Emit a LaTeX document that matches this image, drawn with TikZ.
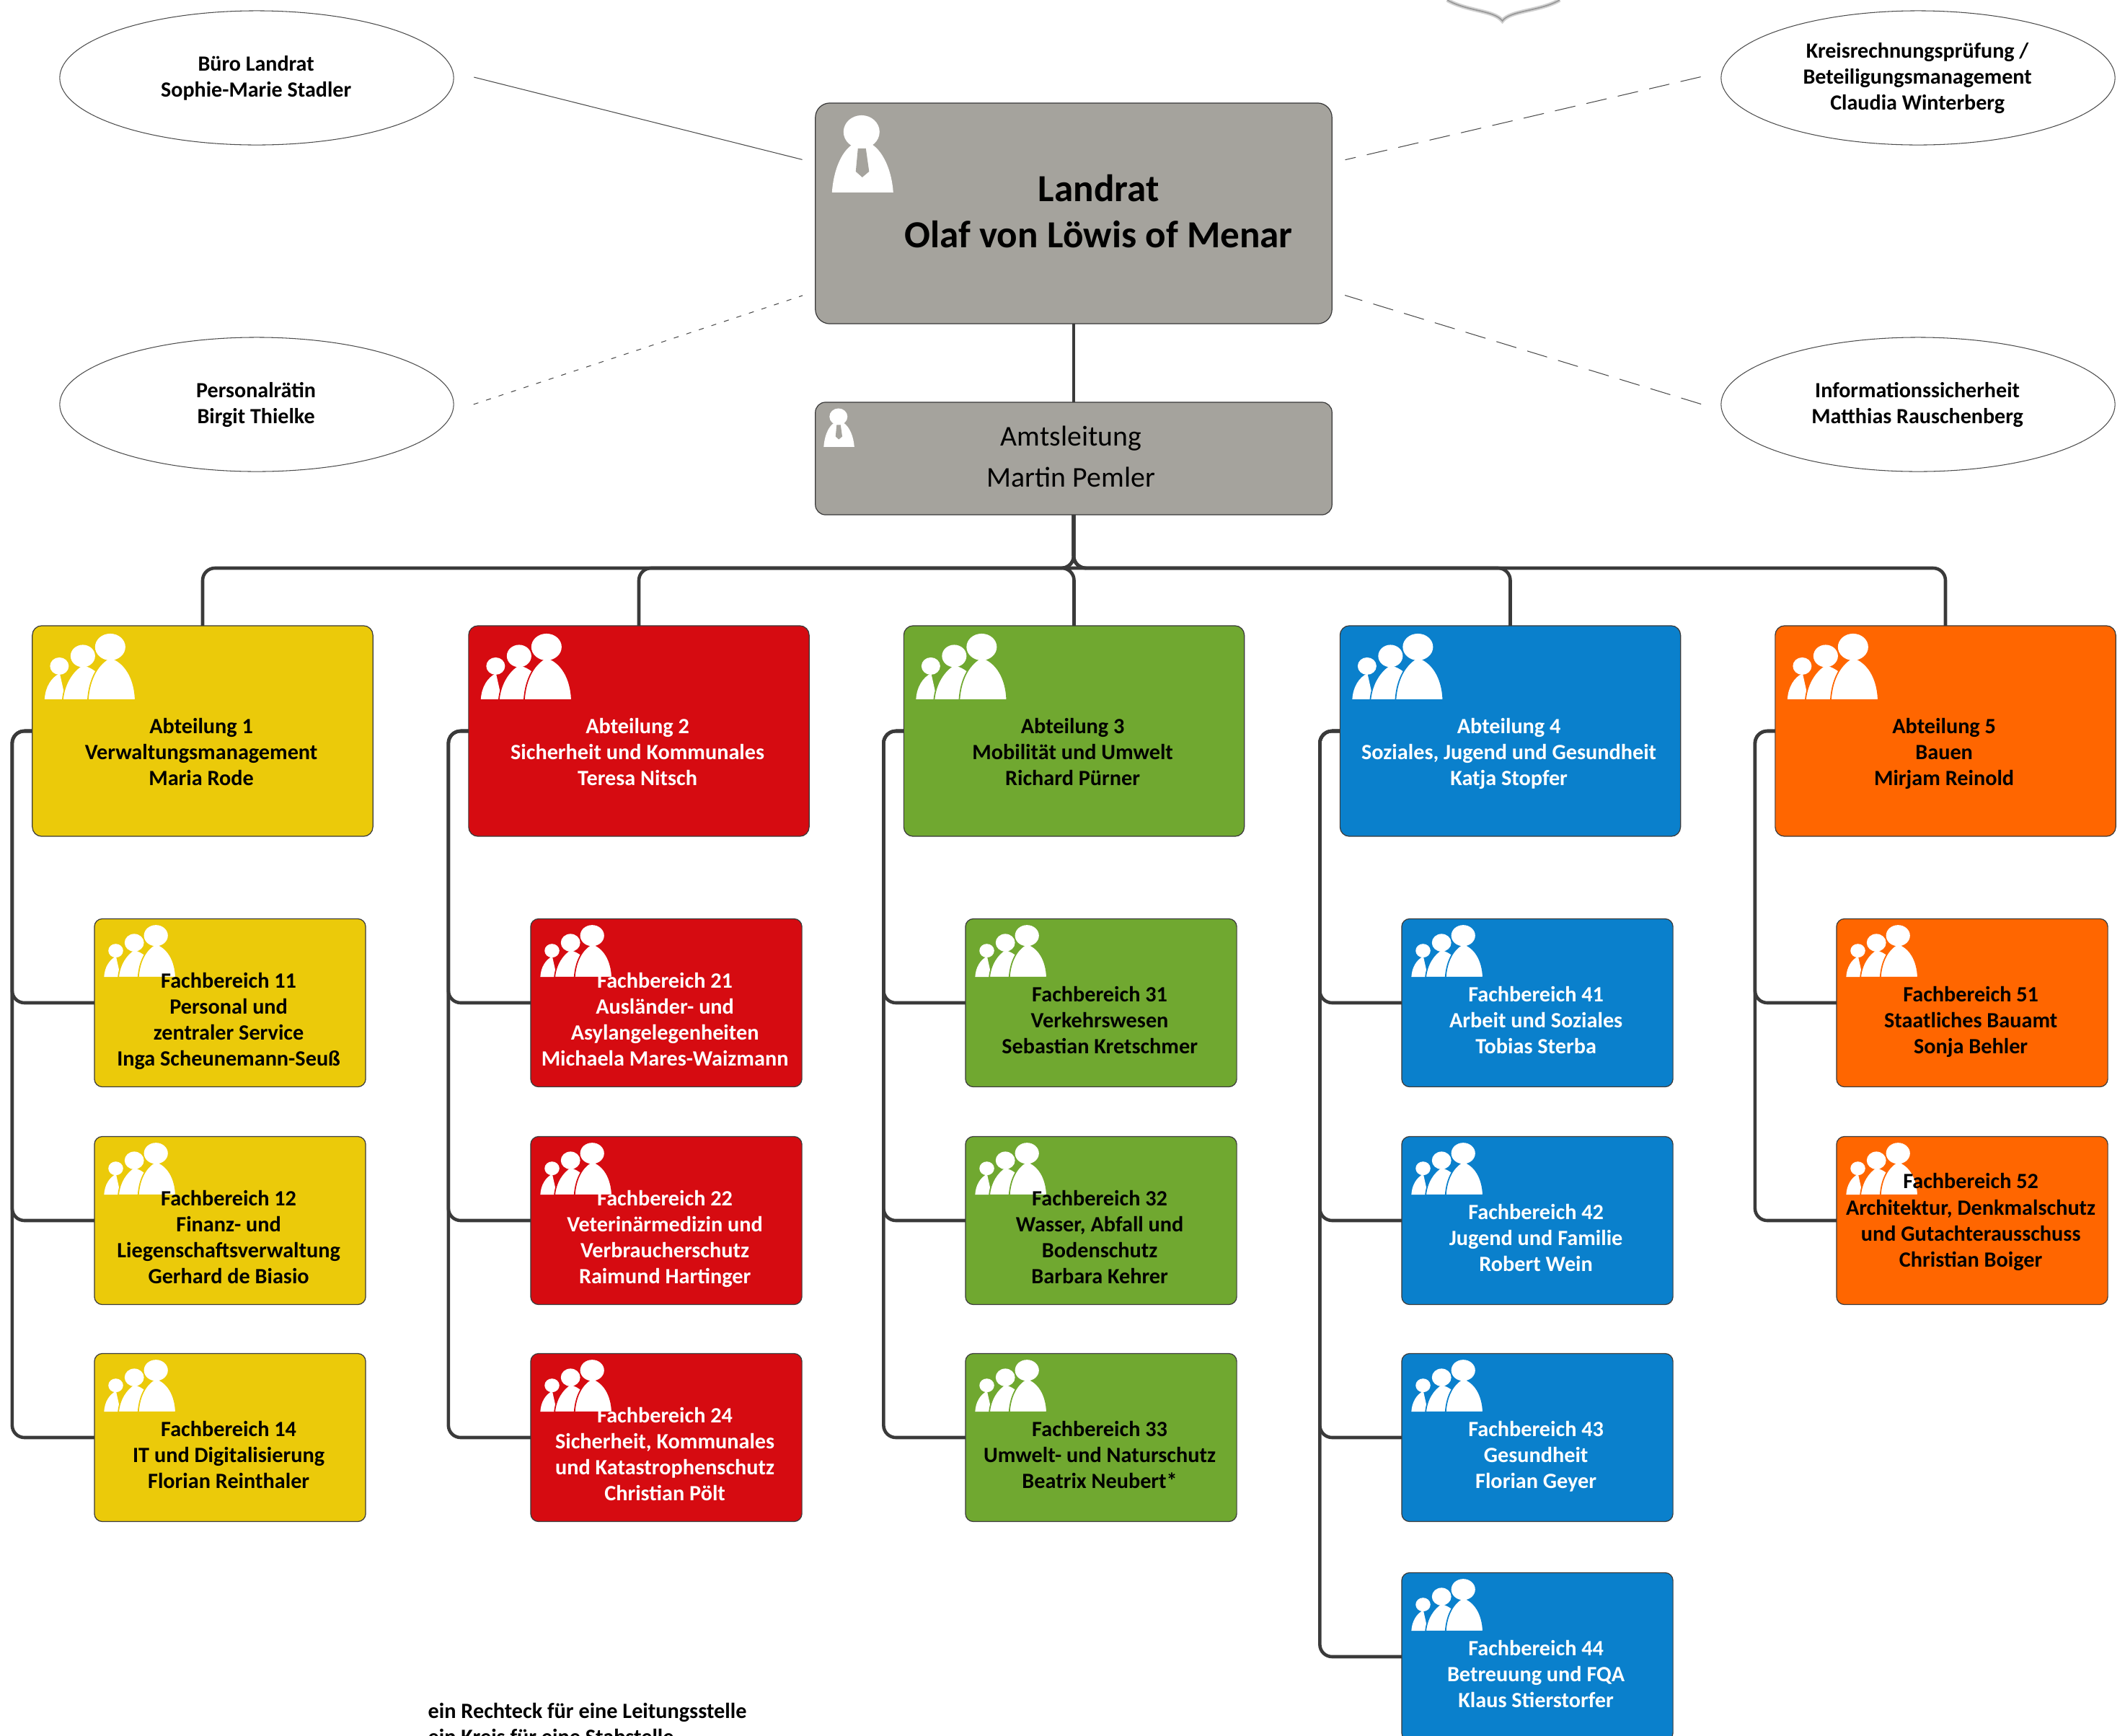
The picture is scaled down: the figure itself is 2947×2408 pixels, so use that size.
\documentclass[tikz,border=0pt]{standalone}
\usepackage{fontspec}
\setmainfont{Carlito}
\definecolor{lrgray}{HTML}{A5A39D}
\definecolor{abtyellow}{HTML}{EBCA0A}
\definecolor{abtred}{HTML}{D60B11}
\definecolor{abtgreen}{HTML}{70A830}
\definecolor{abtblue}{HTML}{0A80CC}
\definecolor{abtorange}{HTML}{FF6600}
\definecolor{linedark}{HTML}{3A3A3A}
\tikzset{
  pics/crowd/.style={code={
    \fill[white] (17,102) .. controls (18,85) and (26,72) .. (38,66) -- (46,102) -- cycle;
    \fill[white] (37.5,56) ellipse (13 and 12);
    \filldraw[white,draw=#1,line width=0.5pt] (42,103) .. controls (44,80) and (56,62) .. (70,54) .. controls (78,56) and (86,60) .. (92,66) -- (92,103) -- cycle;
    \fill[white] (70,42) ellipse (17 and 15.5);
    \filldraw[white,draw=#1,line width=0.5pt] (77,103) .. controls (79,72) and (92,52) .. (108,44) .. controls (128,50) and (142,72) .. (143,103) -- cycle;
    \fill[white] (108,29.5) ellipse (21 and 18.5);
  }},
  pics/chief/.style={code={
    \fill[white] (23,124) .. controls (25,95) and (35,68) .. (52,57) -- (78,57) .. controls (95,68) and (106,95) .. (108,124) -- cycle;
    \fill[white] (64,40) ellipse (25 and 23);
    \fill[lrgray] (59,63) -- (70,63) -- (74.5,95) -- (65,103) -- (56,95) -- cycle;
  }},
  box/.style={draw=linedark,line width=0.35pt,inner sep=0pt,outer sep=0pt,align=center,
    text depth=1.8pt,execute at end node={\kern1.07pt},
    font=\bfseries\fontsize{8.6}{10.24}\selectfont},
  abt/.style={box,fill=#1,minimum width=4.72cm,minimum height=2.92cm,rounded corners=0.13cm,
    path picture={\pic[sharp corners] at (path picture bounding box.north west) {crowd=#1};}},
  fb/.style={box,fill=#1,minimum width=3.76cm,minimum height=2.33cm,rounded corners=0.11cm,
    path picture={\pic[sharp corners,scale=0.79] at (path picture bounding box.north west) {crowd=#1};}},
  stab/.style={draw=black!70,line width=0.3pt,ellipse,inner sep=0pt,outer sep=0pt,align=center,
    minimum width=5.46cm,minimum height=1.86cm,execute at end node={\kern0.5pt},
    font=\bfseries\fontsize{8.55}{10.24}\selectfont},
  low/.style={execute at begin node={\rule{0pt}{#1}}},
  conn/.style={draw=linedark,line width=1.3pt,rounded corners=0.17cm},
  aside/.style={draw=black!70,line width=0.3pt,shorten <=0.29cm,shorten >=0.19cm},
}
\usetikzlibrary{shapes.geometric}
\begin{document}
\begin{tikzpicture}[x=0.01cm,y=-0.01cm]
  \clip (0,0) rectangle (2947,2408);
  % Wappen am oberen Rand
  \draw[gray!35,line width=1.6pt] (2007,0) .. controls (2035,16) and (2072,14) .. (2083.5,29) .. controls (2095,14) and (2135,16) .. (2163,0);
  \draw[gray!80,line width=0.5pt] (2007,0) .. controls (2035,16) and (2072,14) .. (2083.5,29) .. controls (2095,14) and (2135,16) .. (2163,0);

  % Leitung
  \node[box,fill=lrgray,minimum width=7.16cm,minimum height=3.06cm,rounded corners=0.2cm,
    font=\bfseries\fontsize{15.1}{18.2}\selectfont,
    path picture={\pic[sharp corners] at (path picture bounding box.north west) {chief};}] (lr) at (1489,296)
    {\hspace*{20.8pt}Landrat\\\hspace*{20.8pt}Olaf von Löwis of Menar};
  \node[box,fill=lrgray,minimum width=7.16cm,minimum height=1.56cm,rounded corners=0.14cm,
    font=\fontsize{11.3}{16.2}\selectfont,
    path picture={\pic[sharp corners,scale=0.5] at (path picture bounding box.north west) {chief};}] (amt) at (1489,636)
    {\hspace*{-1pt}Amtsleitung\\\hspace*{-1pt}Martin Pemler};
  \coordinate (hub) at (1489,788);

  % Stabsstellen
  \node[stab] (buero) at (356,108) {Büro Landrat\\Sophie-Marie Stadler};
  \node[stab] (krp) at (2660,108) {Kreisrechnungsprüfung /\\Beteiligungsmanagement\\Claudia Winterberg};
  \node[stab] (pr) at (356,561) {Personalrätin\\Birgit Thielke};
  \node[stab] (isb) at (2660,561) {Informationssicherheit\\Matthias Rauschenberg};
  \coordinate (lrnw) at (1131,226);
  \coordinate (lrne) at (1847,226);
  \coordinate (lrsw) at (1131,404);
  \coordinate (lrse) at (1847,404);
  \draw[aside] ([yshift=0.08cm]buero.east) -- (lrnw);
  \draw[aside,dash pattern=on 8.2pt off 4.5pt] ([yshift=0.08cm]krp.west) -- (lrne);
  \draw[aside,dash pattern=on 2pt off 3.2pt] ([yshift=-0.09cm]pr.east) -- (lrsw);
  \draw[aside,dash pattern=on 8.2pt off 4.5pt] ([yshift=-0.08cm]isb.west) -- (lrse);

  % Abteilungen
  \node[abt=abtyellow,low=45pt] (a1) at (281,1014) {Abteilung 1\\Verwaltungsmanagement\\Maria Rode};
  \node[abt=abtred,low=45pt,text=white] (a2) at (886,1014) {Abteilung 2\\Sicherheit und Kommunales\\Teresa Nitsch};
  \node[abt=abtgreen,low=45pt] (a3) at (1489.5,1014) {Abteilung 3\\Mobilität und Umwelt\\Richard Pürner};
  \node[abt=abtblue,low=45pt,text=white] (a4) at (2094.5,1014) {Abteilung 4\\Soziales, Jugend und Gesundheit\\Katja Stopfer};
  \node[abt=abtorange,low=45pt] (a5) at (2698,1014) {Abteilung 5\\Bauen\\Mirjam Reinold};

  % Fachbereiche
  \node[fb=abtyellow,low=51.6pt] (f11) at (319,1391) {Fachbereich 11\\Personal und\\zentraler Service\\Inga Scheunemann-Seuß};
  \node[fb=abtyellow,low=51.6pt] (f12) at (319,1693) {Fachbereich 12\\Finanz- und\\Liegenschaftsverwaltung\\Gerhard de Biasio};
  \node[fb=abtyellow,low=42pt] (f14) at (319,1994) {Fachbereich 14\\IT und Digitalisierung\\Florian Reinthaler};
  \node[fb=abtred,low=51.6pt,text=white] (f21) at (924,1391) {Fachbereich 21\\Ausländer- und\\Asylangelegenheiten\\Michaela Mares-Waizmann};
  \node[fb=abtred,low=51.6pt,text=white] (f22) at (924,1693) {Fachbereich 22\\Veterinärmedizin und\\Verbraucherschutz\\Raimund Hartinger};
  \node[fb=abtred,low=51.6pt,text=white] (f24) at (924,1994) {Fachbereich 24\\Sicherheit, Kommunales\\und Katastrophenschutz\\Christian Pölt};
  \node[fb=abtgreen,low=42pt] (f31) at (1527,1391) {Fachbereich 31\\Verkehrswesen\\Sebastian Kretschmer};
  \node[fb=abtgreen,low=51.6pt] (f32) at (1527,1693) {Fachbereich 32\\Wasser, Abfall und\\Bodenschutz\\Barbara Kehrer};
  \node[fb=abtgreen,low=42pt] (f33) at (1527,1994) {Fachbereich 33\\Umwelt- und Naturschutz\\Beatrix Neubert*};
  \node[fb=abtblue,low=42pt,text=white] (f41) at (2132,1391) {Fachbereich 41\\Arbeit und Soziales\\Tobias Sterba};
  \node[fb=abtblue,low=42pt,text=white] (f42) at (2132,1693) {Fachbereich 42\\Jugend und Familie\\Robert Wein};
  \node[fb=abtblue,low=42pt,text=white] (f43) at (2132,1994) {Fachbereich 43\\Gesundheit\\Florian Geyer};
  \node[fb=abtblue,low=42pt,text=white] (f44) at (2132,2298) {Fachbereich 44\\Betreuung und FQA\\Klaus Stierstorfer};
  \node[fb=abtorange,low=42pt] (f51) at (2735,1391) {Fachbereich 51\\Staatliches Bauamt\\Sonja Behler};
  \node[fb=abtorange,low=38.2pt] (f52) at (2735,1693) {Fachbereich 52\\Architektur, Denkmalschutz\\und Gutachterausschuss\\Christian Boiger};

  % Verbindungen
  \draw[conn] (lr.south) -- (amt.north);
  \foreach \abt in {a1,a2,a3,a4,a5}
    \draw[conn] (amt.south) -- (hub) -| (\abt.north);
  \foreach \abt/\fach in {a1/f11,a1/f12,a1/f14,a2/f21,a2/f22,a2/f24,a3/f31,a3/f32,a3/f33,a4/f41,a4/f42,a4/f43,a4/f44,a5/f51,a5/f52}
    \draw[conn] (\abt.west) -- ++(-28,0) |- (\fach.west);

  \node[anchor=north west,inner sep=0pt,align=left,font=\bfseries\fontsize{8.6}{10.24}\selectfont] (legende) at (593,2362)
    {ein Rechteck für eine Leitungsstelle\\ein Kreis für eine Stabstelle};
\end{tikzpicture}
\end{document}
